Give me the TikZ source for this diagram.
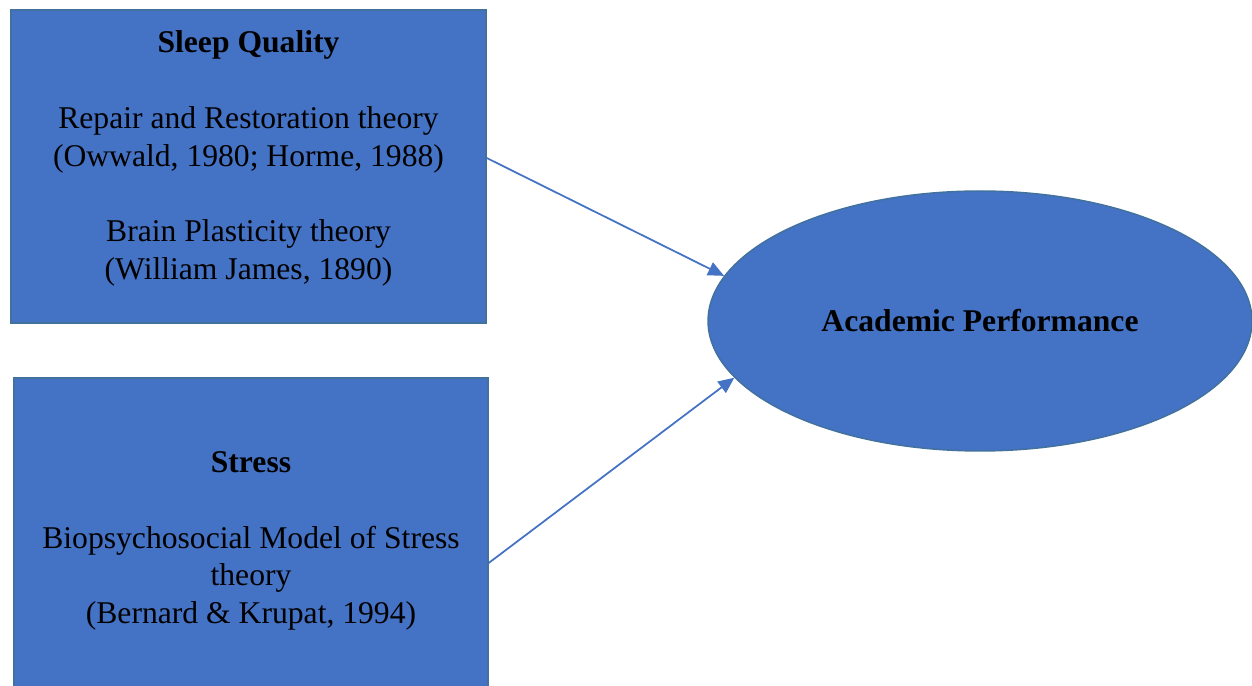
\documentclass[tikz,border=0pt]{standalone}
\usepackage{fontspec}
\setmainfont{Liberation Serif}
\usetikzlibrary{arrows.meta,shapes.geometric}
\definecolor{boxblue}{HTML}{4472C4}
\definecolor{edgeblue}{HTML}{41719C}

\begin{document}
\begin{tikzpicture}[
    theorybox/.style={draw=edgeblue,line width=0.8pt,fill=boxblue,
      inner sep=0pt},
    labeltext/.style={align=center,font=\fontsize{18}{21.5}\selectfont},
    link/.style={draw=boxblue,line width=1pt,
      -{Triangle[length=0.32cm,width=0.28cm]}}]
  \useasboundingbox (0,0) rectangle (25.04,13.72);

  % the two theory boxes and the outcome
  \node[theorybox,minimum width=9.5cm,minimum height=6.26cm] (sleep)
    at (4.97,10.39) {};
  \node[theorybox,minimum width=9.48cm,minimum height=6.28cm] (stress)
    at (5.02,3.02) {};
  \node[theorybox,ellipse,minimum width=10.88cm,minimum height=5.2cm]
    (perf) at (19.6,7.3) {};

  \node[labeltext] (sleeptext) at (4.97,10.55) {\textbf{Sleep Quality}\\[21.5pt]
    Repair and Restoration theory\\ (Owwald, 1980; Horme, 1988)\\[21.5pt]
    Brain Plasticity theory\\ (William James, 1890)};
  \node[labeltext] (stresstext) at (5.02,2.9) {\textbf{Stress}\\[21.5pt]
    Biopsychosocial Model of Stress\\ theory\\ (Bernard \& Krupat, 1994)};
  \node[labeltext] (perftext) at (perf) {\textbf{Academic Performance}};

  \draw[link] ([yshift=0.17cm]sleep.east) -- (perf.170);
  \draw[link] ([yshift=-0.56cm]stress.east) -- (perf.193);
\end{tikzpicture}
\end{document}
